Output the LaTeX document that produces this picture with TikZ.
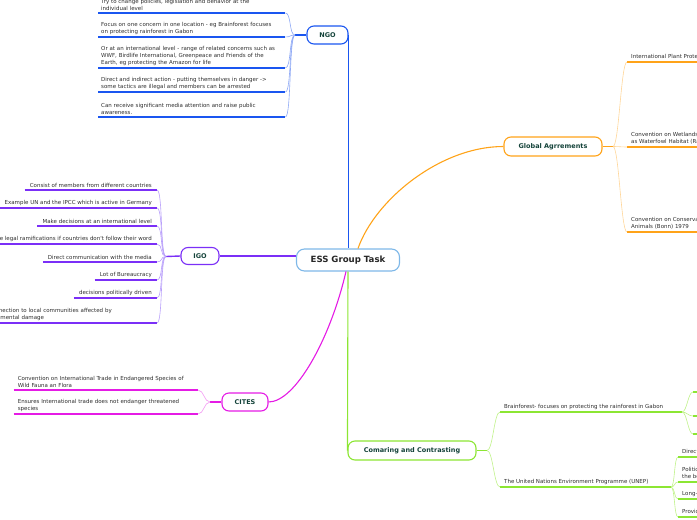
\documentclass[tikz,border=0pt]{standalone}
\usepackage{fontspec}
\newfontfamily\dv{DejaVu Sans}
\definecolor{ngoC}{HTML}{1A56F0}
\definecolor{ngoL}{HTML}{8FA9F5}
\definecolor{igoC}{HTML}{7B2FF7}
\definecolor{igoL}{HTML}{B9A0FA}
\definecolor{citesC}{HTML}{E51BE5}
\definecolor{citesL}{HTML}{F39CF3}
\definecolor{globC}{HTML}{FFA319}
\definecolor{globL}{HTML}{FFD699}
\definecolor{compC}{HTML}{8CE633}
\definecolor{compL}{HTML}{C0F28A}
\definecolor{centC}{HTML}{7EB8E8}
\definecolor{titleC}{HTML}{14433A}
\definecolor{textC}{HTML}{2E2E2E}
\tikzset{
  topic/.style={draw, fill=white, rounded corners=7pt, line width=1.1pt, text=titleC,
    font=\dv\bfseries\fontsize{6.5}{8}\selectfont, inner sep=0pt},
  leaf/.style={inner xsep=4pt, inner ysep=2.5pt, text=textC, font=\dv\fontsize{5.5}{6.8}\selectfont},
  ul/.style={line width=1.4pt},
  thinc/.style={line width=0.6pt},
  mainc/.style={line width=1.1pt},
}
\begin{document}
\begin{tikzpicture}[x=1pt,y=-1pt]
\useasboundingbox (0,0) rectangle (697,520);

% central
\node[topic, draw=centC, text=black!85, font=\dv\bfseries\fontsize{8.6}{10}\selectfont,
  minimum width=103pt, minimum height=22pt, rounded corners=8pt] (cen) at (348,260) {ESS Group Task};

% topics
\node[topic, draw=ngoC, minimum width=41pt, minimum height=18pt] (ngo) at (327.5,35) {NGO};
\node[topic, draw=igoC, minimum width=38pt, minimum height=17pt] (igo) at (200,256) {IGO};
\node[topic, draw=citesC, minimum width=46pt, minimum height=18pt] (cites) at (245,402) {CITES};
\node[topic, draw=globC, minimum width=98pt, minimum height=19pt] (glob) at (553,146.5) {Global Agrrements};
\node[topic, draw=compC, minimum width=128pt, minimum height=19pt] (comp) at (412,450.5) {Comaring and Contrasting};

% main connectors
\draw[mainc, ngoC] (ngo.east) -- (ngo.east |- cen.north);
\draw[mainc, igoC] (igo.east) -- (igo.east -| cen.west);
\draw[mainc, citesC] ([xshift=-2pt]cen.south) .. controls (330,340) and (295,402) .. (cites.east);
\draw[mainc, globC] ([xshift=10pt]cen.north) .. controls (375,200) and (440,146.5) .. (glob.west);
\draw[mainc, compC] (cen.south) -- (comp.west);

% ---------------- NGO
\coordinate (nb) at (295,35);
\draw[ul, ngoC] (ngo.west) -- (nb);
\foreach \n/\y/\t in {
  n1/13/{Try to change policies, legislation and behavior at the\\individual level},
  n2/37/{Focus on one concern in one location - eg Brainforest focuses\\on protecting rainforest in Gabon},
  n3/68/{Or at an international level - range of related concerns such as\\WWF, Birdlife International, Greenpeace and Friends of the\\Earth, eg protecting the Amazon for life},
  n4/92/{Direct and indirect action - putting themselves in danger ->\\some tactics are illegal and members can be arrested},
  n5/117/{Can receive significant media attention and raise public\\awareness.}}{
  \node[leaf, inner xsep=3pt, anchor=south west, text width=181pt, align=left] (\n) at (98,\y) {\t};
  \draw[ul, ngoC] (\n.south west) -- (\n.south east);
  \draw[thinc, ngoL] (nb) .. controls +(-6,0) and +(6,0) .. (\n.south east);
}

% ---------------- IGO
\coordinate (ib) at (166,256.5);
\draw[ul, igoC] (igo.west) -- (ib);
\foreach \n/\y/\t in {
  i1/190/{Consist of members from different countries},
  i2/208/{Example UN and the IPCC which is active in Germany},
  i3/226/{Make decisions at an international level},
  i4/244/{Have legal ramifications if countries don't follow their word},
  i5/262/{Direct communication with the media},
  i6/280/{Lot of Bureaucracy},
  i7/298/{decisions politically driven}}{
  \node[leaf, inner xsep=5pt, anchor=south east] (\n) at (157,\y) {\t};
  \draw[ul, igoC] (\n.south west) -- (\n.south east);
  \draw[thinc, igoL] (ib) .. controls +(-6,0) and +(6,0) .. (\n.south east);
}
\node[leaf, inner xsep=5pt, anchor=south east, text width=172pt, align=left] (i8) at (157,323)
  {No connection to local communities affected by\\environmental damage};
\draw[ul, igoC] (i8.south west) -- (i8.south east);
\draw[thinc, igoL] (ib) .. controls +(-6,0) and +(6,0) .. (i8.south east);

% ---------------- CITES
\coordinate (cb) at (210,402);
\draw[ul, citesC] (cites.west) -- (cb);
\foreach \n/\y/\t in {
  c1/390/{Convention on International Trade in Endangered Species of\\Wild Fauna an Flora},
  c2/414/{Ensures International trade does not endanger threatened\\species}}{
  \node[leaf, anchor=south east, text width=176pt, align=left] (\n) at (198,\y) {\t};
  \draw[ul, citesC] (\n.south west) -- (\n.south east);
  \draw[thinc, citesL] (cb) .. controls +(-6,0) and +(6,0) .. (\n.south east);
}

% ---------------- Global
\coordinate (gb) at (613,146.5);
\draw[ul, globC] (glob.east) -- (gb);
\foreach \n/\y/\t in {
  g1/62/{International Plant Protection Convention (IPPC) 1951},
  g2/147/{Convention on Wetlands of International Importance especially\\as Waterfowl Habitat (Ramsar) 1971},
  g3/232/{Convention on Conservation of Migratory Species of Wild\\Animals (Bonn) 1979}}{
  \node[leaf, anchor=south west, align=left] (\n) at (627,\y) {\t};
  \draw[ul, globC] (\n.south west) -- (\n.south east);
  \draw[thinc, globL] (gb) .. controls +(6,0) and +(-6,0) .. (\n.south west);
}

% ---------------- Comparing
\coordinate (pb) at (487,450.5);
\draw[ul, compC] (comp.east) -- (pb);
\node[leaf, anchor=south west, align=left] (p1) at (500,412) {Brainforest- focuses on protecting the rainforest in Gabon};
\node[leaf, anchor=south west, align=left] (p2) at (500,487) {The United Nations Environment Programme (UNEP)};
\coordinate (pb1) at (682,412);
\coordinate (pb2) at (671,487);
\draw[ul, compC] (p1.south west) -- (pb1);
\draw[ul, compC] (p2.south west) -- (pb2);
\draw[thinc, compL] (pb) .. controls +(6,0) and +(-6,0) .. (p1.south west);
\draw[thinc, compL] (pb) .. controls +(6,0) and +(-6,0) .. (p2.south west);

% Brainforest sub-branches (off page)
\foreach \n/\y in {q1/392, q2/416, q3/434}{
  \coordinate (\n) at (693,\y);
  \draw[ul, compC] (\n) -- ++(20,0);
  \draw[thinc, compL] (pb1) .. controls +(5,0) and +(-5,0) .. (\n);
}

% UNEP sub-branches
\foreach \n/\y/\t in {
  u1/457/{Direct intergovernmental action},
  u2/482/{Political support from member states\\the best placed to act},
  u3/499/{Long-term programmes},
  u4/517/{Provides funding}}{
  \node[leaf, anchor=south west, align=left] (\n) at (678,\y) {\t};
  \draw[ul, compC] (\n.south west) -- (\n.south east);
  \draw[thinc, compL] (pb2) .. controls +(4,0) and +(-4,0) .. (\n.south west);
}
\end{tikzpicture}
\end{document}
